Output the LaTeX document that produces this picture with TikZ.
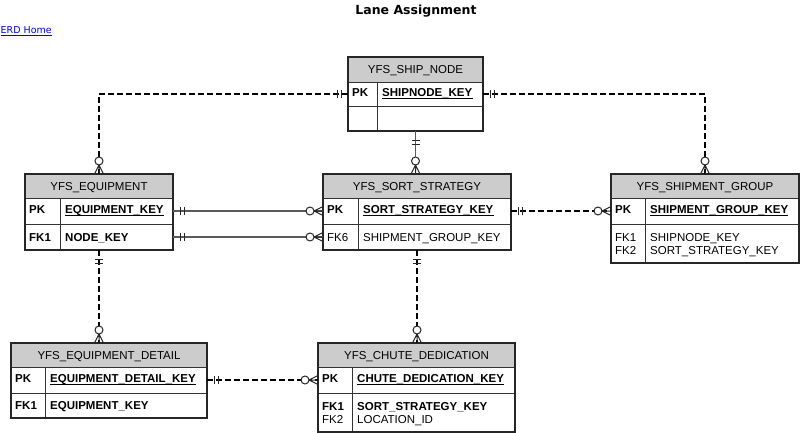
\documentclass[tikz,border=0pt]{standalone}
\usepackage{fontspec}
\setmainfont{Liberation Sans}
\newfontfamily\titlefont{DejaVu Sans}
\definecolor{hdrgray}{RGB}{204,204,204}
\definecolor{linkblue}{RGB}{0,0,238}
\definecolor{relgray}{RGB}{90,90,90}
\begin{document}
\begin{tikzpicture}[x=1pt,y=-1pt,
  ent/.style={font=\fontsize{11.5}{13}\selectfont, text height=8.2pt, text depth=0pt},
  hdr/.style={ent, draw=black!80, line width=0.9pt, fill=hdrgray, anchor=north west, inner sep=0pt, outer sep=0pt},
  cell/.style={draw=black!80, line width=0.9pt, anchor=north west, inner sep=0pt, outer sep=0pt},
  kt/.style={ent, inner sep=0pt, anchor=west},
  kb/.style={kt, font=\fontsize{11.5}{13}\selectfont\bfseries},
  entborder/.style={draw=black!85, line width=1.3pt},
  divl/.style={draw=black!80, line width=0.9pt},
  ul/.style={line width=0.8pt},
  dashrel/.style={line width=1.6pt, dash pattern=on 6pt off 3pt},
  solidrel/.style={line width=1.8pt, draw=relgray},
  mk/.style={solid, line width=1pt, draw=black!85},
  oneh/.pic={\draw[mk] (-7,-4) -- (-7,4) (-11,-4) -- (-11,4);},
  onev/.pic={\draw[mk] (-9,-4) -- (-9,4) (-13,-4) -- (-13,4);},
  many/.pic={\draw[mk,fill=white] (-13,0) circle[radius=4]; \draw[mk] (-9,0) -- (0,-4.5) (-9,0) -- (0,0) (-9,0) -- (0,4.5);}
]
\useasboundingbox (0,0) rectangle (800,433);

% title and link
\node[font=\titlefont\fontsize{12.5}{14}\selectfont\bfseries, inner sep=0pt, anchor=base] (title) at (416,14.5) {Lane Assignment};
\node[font=\titlefont\fontsize{9.5}{11}\selectfont, text=linkblue, anchor=base west, inner sep=0pt] (home) at (0.5,34) {\underline{ERD Home}};

% ---------- YFS_SHIP_NODE
\node[hdr, minimum width=135, minimum height=25] (snh) at (348,57) {YFS\_SHIP\_NODE};
\node[cell, minimum width=135, minimum height=24] (snpk) at (348,82) {};
\node[cell, minimum width=135, minimum height=25] (snr2) at (348,106) {};
\draw[divl] (377,82) -- (377,131);
\draw[entborder] (snh.north west) rectangle (snr2.south east);
\node[kb] (snpkl) at ([xshift=4pt,yshift=2pt]snpk.west) {PK};
\node[kb] (snpkn) at ([xshift=34pt,yshift=2pt]snpk.west) {SHIPNODE\_KEY};
\draw[ul] ([yshift=-2pt]snpkn.base west) -- ([yshift=-2pt]snpkn.base east);

% ---------- YFS_EQUIPMENT
\node[hdr, minimum width=148, minimum height=24] (eqh) at (25,174) {YFS\_EQUIPMENT};
\node[cell, minimum width=148, minimum height=26] (eqpk) at (25,198) {};
\node[cell, minimum width=148, minimum height=26] (eqr2) at (25,224) {};
\draw[divl] (60,198) -- (60,250);
\draw[entborder] (eqh.north west) rectangle (eqr2.south east);
\node[kb] (eqpkl) at ([xshift=4pt,yshift=2pt]eqpk.west) {PK};
\node[kb] (eqpkn) at ([xshift=40pt,yshift=2pt]eqpk.west) {EQUIPMENT\_KEY};
\draw[ul] ([yshift=-2pt]eqpkn.base west) -- ([yshift=-2pt]eqpkn.base east);
\node[kb] (eqfkl) at ([xshift=4pt]eqr2.west) {FK1};
\node[kb] (eqfkn) at ([xshift=40pt]eqr2.west) {NODE\_KEY};

% ---------- YFS_SORT_STRATEGY
\node[hdr, minimum width=188, minimum height=24] (ssh) at (323,174) {YFS\_SORT\_STRATEGY};
\node[cell, minimum width=188, minimum height=26] (sspk) at (323,198) {};
\node[cell, minimum width=188, minimum height=26] (ssr2) at (323,224) {};
\draw[divl] (358,198) -- (358,250);
\draw[entborder] (ssh.north west) rectangle (ssr2.south east);
\node[kb] (sspkl) at ([xshift=4pt,yshift=2pt]sspk.west) {PK};
\node[kb] (sspkn) at ([xshift=40pt,yshift=2pt]sspk.west) {SORT\_STRATEGY\_KEY};
\draw[ul] ([yshift=-2pt]sspkn.base west) -- ([yshift=-2pt]sspkn.base east);
\node[kt] (ssfkl) at ([xshift=4pt]ssr2.west) {FK6};
\node[kt] (ssfkn) at ([xshift=40pt]ssr2.west) {SHIPMENT\_GROUP\_KEY};

% ---------- YFS_SHIPMENT_GROUP
\node[hdr, minimum width=188, minimum height=24] (sgh) at (611,174) {YFS\_SHIPMENT\_GROUP};
\node[cell, minimum width=188, minimum height=26] (sgpk) at (611,198) {};
\node[cell, minimum width=188, minimum height=39] (sgr2) at (611,224) {};
\draw[divl] (645,198) -- (645,263);
\draw[entborder] (sgh.north west) rectangle (sgr2.south east);
\node[kb] (sgpkl) at ([xshift=4pt,yshift=2pt]sgpk.west) {PK};
\node[kb] (sgpkn) at ([xshift=39pt,yshift=2pt]sgpk.west) {SHIPMENT\_GROUP\_KEY};
\draw[ul] ([yshift=-2pt]sgpkn.base west) -- ([yshift=-2pt]sgpkn.base east);
\node[kt] (sgfk1l) at ([xshift=4pt,yshift=6.5pt]sgr2.west) {FK1};
\node[kt] (sgfk1n) at ([xshift=39pt,yshift=6.5pt]sgr2.west) {SHIPNODE\_KEY};
\node[kt] (sgfk2l) at ([xshift=4pt,yshift=-6.5pt]sgr2.west) {FK2};
\node[kt] (sgfk2n) at ([xshift=39pt,yshift=-6.5pt]sgr2.west) {SORT\_STRATEGY\_KEY};

% ---------- YFS_EQUIPMENT_DETAIL
\node[hdr, minimum width=196, minimum height=24] (edh) at (11,343) {YFS\_EQUIPMENT\_DETAIL};
\node[cell, minimum width=196, minimum height=26] (edpk) at (11,367) {};
\node[cell, minimum width=196, minimum height=25] (edr2) at (11,393) {};
\draw[divl] (45,367) -- (45,418);
\draw[entborder] (edh.north west) rectangle (edr2.south east);
\node[kb] (edpkl) at ([xshift=4pt,yshift=2pt]edpk.west) {PK};
\node[kb] (edpkn) at ([xshift=39pt,yshift=2pt]edpk.west) {EQUIPMENT\_DETAIL\_KEY};
\draw[ul] ([yshift=-2pt]edpkn.base west) -- ([yshift=-2pt]edpkn.base east);
\node[kb] (edfkl) at ([xshift=4pt]edr2.west) {FK1};
\node[kb] (edfkn) at ([xshift=39pt]edr2.west) {EQUIPMENT\_KEY};

% ---------- YFS_CHUTE_DEDICATION
\node[hdr, minimum width=197, minimum height=24] (cdh) at (318,343) {YFS\_CHUTE\_DEDICATION};
\node[cell, minimum width=197, minimum height=26] (cdpk) at (318,367) {};
\node[cell, minimum width=197, minimum height=39] (cdr2) at (318,393) {};
\draw[divl] (352,367) -- (352,432);
\draw[entborder] (cdh.north west) rectangle (cdr2.south east);
\node[kb] (cdpkl) at ([xshift=4pt,yshift=2pt]cdpk.west) {PK};
\node[kb] (cdpkn) at ([xshift=39pt,yshift=2pt]cdpk.west) {CHUTE\_DEDICATION\_KEY};
\draw[ul] ([yshift=-2pt]cdpkn.base west) -- ([yshift=-2pt]cdpkn.base east);
\node[kb] (cdfk1l) at ([xshift=4pt,yshift=6.5pt]cdr2.west) {FK1};
\node[kb] (cdfk1n) at ([xshift=39pt,yshift=6.5pt]cdr2.west) {SORT\_STRATEGY\_KEY};
\node[kt] (cdfk2l) at ([xshift=4pt,yshift=-6.5pt]cdr2.west) {FK2};
\node[kt] (cdfk2n) at ([xshift=39pt,yshift=-6.5pt]cdr2.west) {LOCATION\_ID};

% ---------- relationships
\draw[dashrel] (snpk.west) -| (eqh.north);
\pic at (snpk.west) {oneh};
\pic[rotate=-90] at (eqh.north) {many};

\draw[dashrel] (snpk.east) -| (sgh.north);
\pic[rotate=180] at (snpk.east) {oneh};
\pic[rotate=-90] at (sgh.north) {many};

\draw[solidrel] (snr2.south) -- (snr2.south |- ssh.north);
\pic[rotate=90] at (snr2.south) {onev};
\pic[rotate=-90] at (snr2.south |- ssh.north) {many};

\draw[solidrel] (eqpk.east) -- (sspk.west);
\pic[rotate=180] at (eqpk.east) {oneh};
\pic at (sspk.west) {many};

\draw[solidrel] (eqr2.east) -- (ssr2.west);
\pic[rotate=180] at (eqr2.east) {oneh};
\pic at (ssr2.west) {many};

\draw[dashrel] (sspk.east) -- (sgpk.west);
\pic[rotate=180] at (sspk.east) {oneh};
\pic at (sgpk.west) {many};

\draw[dashrel] (eqr2.south) -- (eqr2.south |- edh.north);
\pic[rotate=90] at (eqr2.south) {onev};
\pic[rotate=-90] at (eqr2.south |- edh.north) {many};

\draw[dashrel] (ssr2.south) -- (ssr2.south |- cdh.north);
\pic[rotate=90] at (ssr2.south) {onev};
\pic[rotate=-90] at (ssr2.south |- cdh.north) {many};

\draw[dashrel] (edpk.east) -- (cdpk.west);
\pic[rotate=180] at (edpk.east) {oneh};
\pic at (cdpk.west) {many};
\end{tikzpicture}
\end{document}
